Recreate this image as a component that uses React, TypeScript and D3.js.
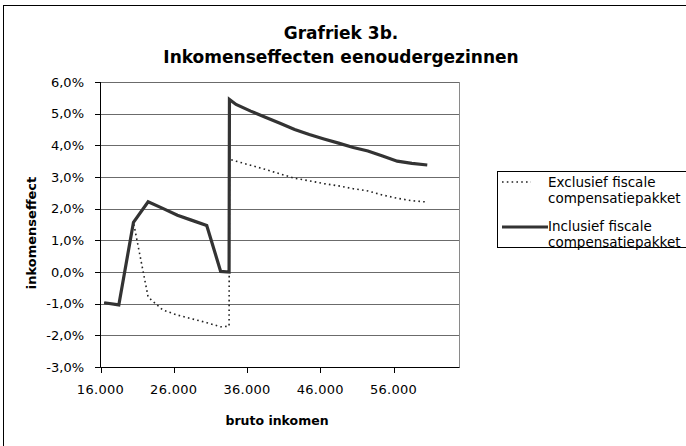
import React from "react";
import * as d3 from "d3";

const incomes = [16500, 18500, 20500, 22500, 24500, 26500, 28500, 30500, 32400, 33550, 33600, 34500, 36500, 38500, 40500, 42500, 44500, 46500, 48500, 50500, 52500, 54500, 56500, 58500, 60600];
const exclusief = [-0.97, -1.04, 1.57, -0.79, -1.2, -1.36, -1.48, -1.6, -1.73, -1.71, 3.56, 3.5, 3.37, 3.24, 3.1, 2.96, 2.88, 2.79, 2.72, 2.63, 2.56, 2.43, 2.33, 2.25, 2.21];
const inclusief = [-0.97, -1.04, 1.57, 2.22, 2.01, 1.79, 1.63, 1.47, 0.02, 0.0, 5.45, 5.29, 5.08, 4.89, 4.7, 4.5, 4.34, 4.2, 4.07, 3.93, 3.82, 3.66, 3.5, 3.43, 3.38];
const yTicks = [-3, -2, -1, 0, 1, 2, 3, 4, 5, 6];
const xTicks = [16000, 26000, 36000, 46000, 56000];
const titleLines = ["Grafriek 3b.", "Inkomenseffecten eenoudergezinnen"];
const legendLabels = [["Exclusief fiscale", "compensatiepakket"], ["Inclusief fiscale", "compensatiepakket"]];

const FONT = "'DejaVu Sans', sans-serif";

export default function App() {
  const x = d3.scaleLinear().domain([16000, 65000]).range([100.5, 459.5]);
  const y = d3.scaleLinear().domain([-3, 6]).range([367, 82]);
  const line = d3
    .line<number>()
    .x((_, i) => x(incomes[i]))
    .y((d) => y(d));
  const fmtY = (v: number) => v.toFixed(1).replace(".", ",") + "%";
  const fmtX = (v: number) => d3.format(",")(v).replace(/,/g, ".");

  return (
    <svg width={686} height={446} style={{ position: "absolute", left: 0, top: 0, background: "#fff" }}>
      <rect x={3.5} y={5.5} width={700} height={460} fill="#fff" stroke="#000" strokeWidth={1} />
      {titleLines.map((t, i) => (
        <text key={i} x={341} y={39 + i * 24} textAnchor="middle" fontFamily={FONT} fontWeight="bold" fontSize={17}>
          {t}
        </text>
      ))}
      {/* gridlines */}
      {yTicks.map((t) => (
        <line key={t} x1={x(16000)} x2={x(65000)} y1={Math.round(y(t)) + 0.5} y2={Math.round(y(t)) + 0.5} stroke="#6b6b6b" strokeWidth={1} />
      ))}
      <line x1={459.5} x2={459.5} y1={y(6)} y2={y(-3)} stroke="#8a8a8a" strokeWidth={1} />
      {/* axes */}
      <line x1={100.5} x2={100.5} y1={y(6)} y2={y(-3) + 0.5} stroke="#000" />
      <line x1={100.5} x2={459.5} y1={367.5} y2={367.5} stroke="#000" />
      {yTicks.map((t) => (
        <g key={t}>
          <line x1={95} x2={100.5} y1={Math.round(y(t)) + 0.5} y2={Math.round(y(t)) + 0.5} stroke="#000" />
          <text x={84} y={y(t) + 4.5} textAnchor="end" fontFamily={FONT} fontSize={13}>
            {fmtY(t)}
          </text>
        </g>
      ))}
      {xTicks.map((t) => (
        <g key={t}>
          <line x1={Math.round(x(t)) + 0.5} x2={Math.round(x(t)) + 0.5} y1={367.5} y2={373} stroke="#000" />
          <text x={x(t)} y={394} textAnchor="middle" fontFamily={FONT} fontSize={13} letterSpacing={0.3}>
            {fmtX(t)}
          </text>
        </g>
      ))}
      <text x={277} y={425} textAnchor="middle" fontFamily={FONT} fontWeight="bold" fontSize={12.5}>
        bruto inkomen
      </text>
      <text transform="translate(36,233) rotate(-90)" textAnchor="middle" fontFamily={FONT} fontWeight="bold" fontSize={13}>
        inkomenseffect
      </text>
      {/* series */}
      <path d={line(exclusief) || ""} fill="none" stroke="#222" strokeWidth={1.6} strokeDasharray="1.6,3.2" />
      <path d={line(inclusief) || ""} fill="none" stroke="#333" strokeWidth={3.2} strokeLinejoin="miter" />
      {/* legend */}
      <rect x={497.5} y={171.5} width={200} height={76} fill="#fff" stroke="#000" />
      <line x1={502} x2={531} y1={182} y2={182} stroke="#222" strokeWidth={1.6} strokeDasharray="1.6,3.2" />
      <line x1={502} x2={548} y1={227} y2={227} stroke="#333" strokeWidth={3.2} />
      {legendLabels.map((lines, i) =>
        lines.map((l, j) => (
          <text key={i + "-" + j} x={548} y={187 + i * 44 + j * 15.5} fontFamily={FONT} fontSize={13.5}>
            {l}
          </text>
        ))
      )}
    </svg>
  );
}
